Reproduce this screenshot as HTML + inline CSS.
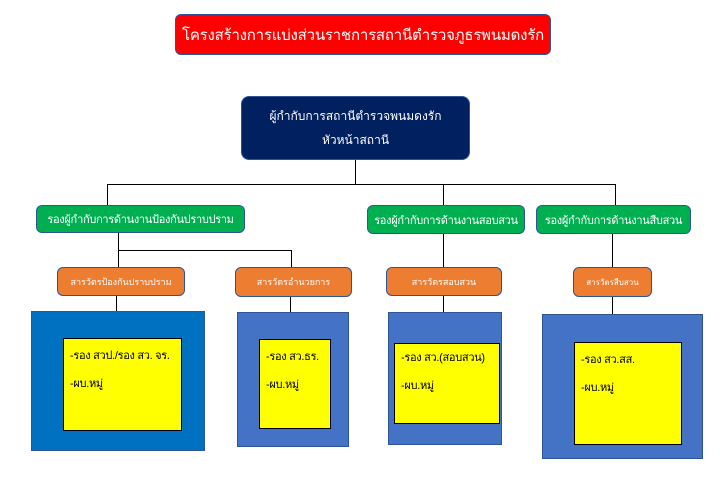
<!DOCTYPE html>
<html><head><meta charset="utf-8"><style>
body{margin:0;width:720px;height:477px;background:#fff;position:relative;overflow:hidden;font-family:"Liberation Sans","DejaVu Sans",sans-serif}
.b{position:absolute;box-sizing:border-box;display:flex;align-items:center;justify-content:center;text-align:center;color:#fff;white-space:nowrap;overflow:hidden}
.r{border-radius:6px;border:1px solid #2f5597}
.l{position:absolute;background:#000}
.y{position:absolute;box-sizing:border-box;background:#ff0;border:1px solid #000;font-size:11px;color:#000;padding:3px 0 0 6px;line-height:28px;white-space:nowrap;letter-spacing:-0.3px}
</style></head><body>
<div class="b r" style="left:175px;top:14px;width:376px;height:41px;background:#f00;font-size:15px;letter-spacing:-0.2px">โครงสร้างการแบ่งส่วนราชการสถานีตำรวจภูธรพนมดงรัก</div>
<div class="b r" style="left:241px;top:96px;width:229px;height:64px;background:#002060;font-size:12px;line-height:24px;border-radius:8px">ผู้กำกับการสถานีตำรวจพนมดงรัก<br>หัวหน้าสถานี</div>

<div class="l" style="left:355px;top:160px;width:1px;height:24px"></div>
<div class="l" style="left:107px;top:184px;width:509px;height:1px"></div>
<div class="l" style="left:107px;top:184px;width:1px;height:21px"></div>
<div class="l" style="left:443px;top:184px;width:1px;height:21px"></div>
<div class="l" style="left:615px;top:184px;width:1px;height:21px"></div>

<div class="b r" style="left:36px;top:205px;width:209px;height:28px;background:#00b050;font-size:11px;letter-spacing:-0.3px">รองผู้กำกับการด้านงานป้องกันปราบปราม</div>
<div class="b r" style="left:367px;top:205px;width:158px;height:29px;background:#00b050;font-size:11px;letter-spacing:-0.3px">รองผู้กำกับการด้านงานสอบสวน</div>
<div class="b r" style="left:536px;top:205px;width:155px;height:29px;background:#00b050;font-size:11px;letter-spacing:-0.3px">รองผู้กำกับการด้านงานสืบสวน</div>

<div class="l" style="left:118px;top:233px;width:1px;height:34px"></div>
<div class="l" style="left:118px;top:250px;width:174px;height:1px"></div>
<div class="l" style="left:291px;top:250px;width:1px;height:17px"></div>
<div class="l" style="left:443px;top:234px;width:1px;height:33px"></div>
<div class="l" style="left:612px;top:234px;width:1px;height:33px"></div>

<div class="b r" style="left:57px;top:267px;width:128px;height:29px;background:#ed7d31;font-size:9px">สารวัตรป้องกันปราบปราม</div>
<div class="b r" style="left:235px;top:267px;width:117px;height:30px;background:#ed7d31;font-size:9px">สารวัตรอำนวยการ</div>
<div class="b r" style="left:386px;top:267px;width:116px;height:29px;background:#ed7d31;font-size:9px">สารวัตรสอบสวน</div>
<div class="b r" style="left:573px;top:267px;width:79px;height:30px;background:#ed7d31;font-size:8px">สารวัตรสืบสวน</div>

<div class="l" style="left:116px;top:296px;width:1px;height:15px"></div>
<div class="l" style="left:290px;top:297px;width:1px;height:15px"></div>
<div class="l" style="left:443px;top:296px;width:1px;height:16px"></div>
<div class="l" style="left:612px;top:297px;width:1px;height:17px"></div>

<div style="position:absolute;left:31px;top:311px;width:174px;height:140px;background:#0070c0;border:1px solid #2f5597;box-sizing:border-box"></div>
<div style="position:absolute;left:237px;top:312px;width:112px;height:135px;background:#4472c4;border:1px solid #2f5597;box-sizing:border-box"></div>
<div style="position:absolute;left:388px;top:312px;width:114px;height:133px;background:#4472c4;border:1px solid #2f5597;box-sizing:border-box"></div>
<div style="position:absolute;left:542px;top:314px;width:161px;height:145px;background:#4472c4;border:1px solid #2f5597;box-sizing:border-box"></div>

<div class="y" style="left:63px;top:338px;width:119px;height:93px">-รอง สวป./รอง สว. จร.<br>-ผบ.หมู่</div>
<div class="y" style="left:259px;top:339px;width:72px;height:90px">-รอง สว.ธร.<br>-ผบ.หมู่</div>
<div class="y" style="left:394px;top:343px;width:106px;height:81px;padding-top:0">-รอง สว.(สอบสวน)<br>-ผบ.หมู่</div>
<div class="y" style="left:574px;top:342px;width:108px;height:103px">-รอง สว.สส.<br>-ผบ.หมู่</div>
</body></html>
